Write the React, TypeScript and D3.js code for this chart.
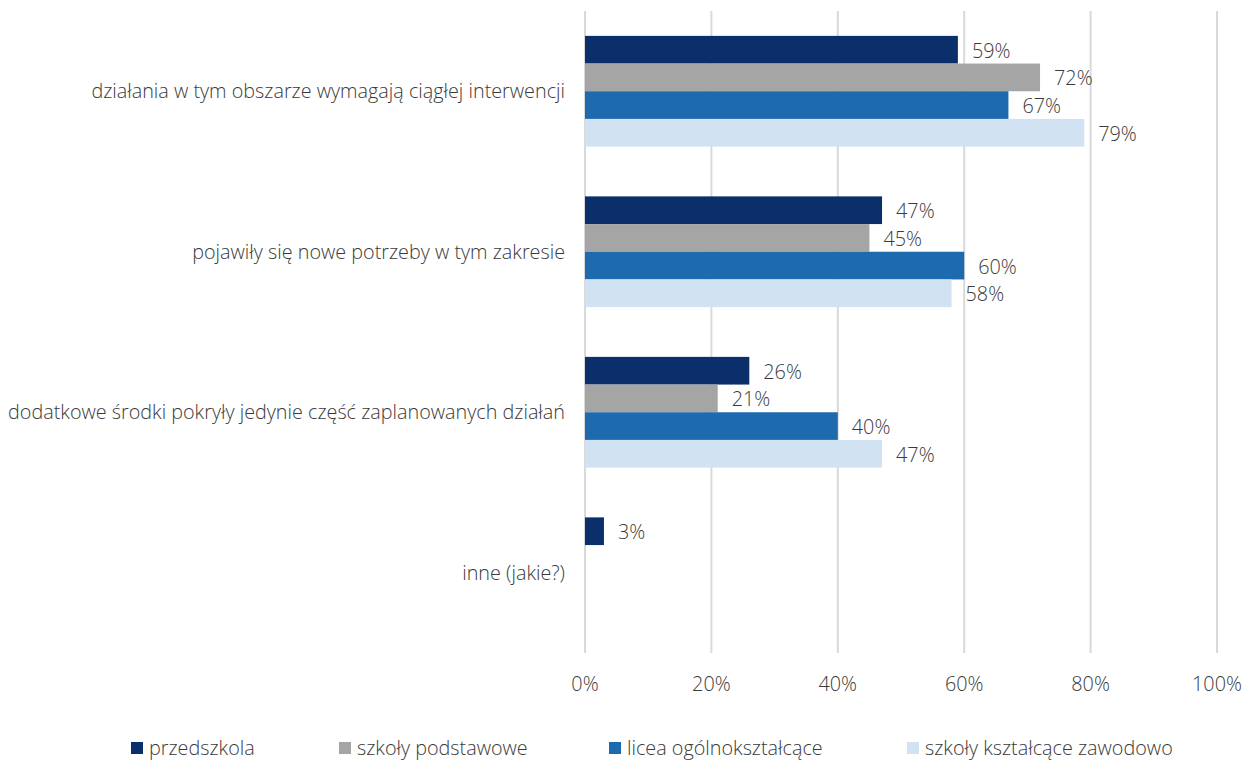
import React from "react";
import * as d3 from "d3";

const categories = [
  "działania w tym obszarze wymagają ciągłej interwencji",
  "pojawiły się nowe potrzeby w tym zakresie",
  "dodatkowe środki pokryły jedynie część zaplanowanych działań",
  "inne (jakie?)",
];
const seriesNames = ["przedszkola", "szkoły podstawowe", "licea ogólnokształcące", "szkoły kształcące zawodowo"];
const przedszkola = [59, 47, 26, 3];
const podstawowe = [72, 45, 21, null];
const licea = [67, 60, 40, null];
const zawodowe = [79, 58, 47, null];
const seriesValues = [przedszkola, podstawowe, licea, zawodowe];
const colors = ["#0a2f6a", "#a5a5a5", "#1d6aaf", "#d1e2f2"];
const xTicks = [0, 20, 40, 60, 80, 100];
const legendX = [131, 339, 609, 907];

const W = 1253;
const H = 760;
const FONT = "'Open Sans', 'Noto Sans', sans-serif";
const TXT = "#3a3a3a";
const FS = 19.8;

export default function App() {
  const x = d3.scaleLinear().domain([0, 100]).range([585, 1217]);
  const y = d3.scaleBand<string>().domain(categories).range([11, 653]).paddingInner(0.31).paddingOuter(0.155);
  const inner = d3.scaleBand<number>().domain([0, 1, 2, 3]).range([0, y.bandwidth()]);

  return (
    <svg width={W} height={H} style={{ position: "absolute", left: 0, top: 0, background: "#fff" }} fontFamily={FONT}>
      {xTicks.map((t) => (
        <line key={t} x1={x(t)} x2={x(t)} y1={11} y2={653} stroke="#d9d9d9" strokeWidth={2} />
      ))}
      {categories.map((c, ci) =>
        seriesValues.map((s, si) => {
          const v = s[ci];
          if (v == null) return null;
          const yy = (y(c) as number) + (inner(si) as number);
          return (
            <g key={c + si}>
              <rect x={x(0)} y={yy} width={x(v) - x(0)} height={inner.bandwidth()} fill={colors[si]} />
              <text x={x(v) + 14} y={yy + inner.bandwidth() / 2 + 1} dy="0.35em" fontSize={FS} fill={TXT} fontWeight={300}>
                {v}%
              </text>
            </g>
          );
        })
      )}
      {categories.map((c) => (
        <text key={c} x={565} y={(y(c) as number) + y.bandwidth() / 2} dy="0.35em" textAnchor="end" fontSize={FS} fill={TXT} fontWeight={300}>
          {c}
        </text>
      ))}
      {xTicks.map((t) => (
        <text key={t} x={x(t)} y={684} dy="0.35em" textAnchor="middle" fontSize={FS} fill={TXT} fontWeight={300}>
          {t}%
        </text>
      ))}
      {seriesNames.map((n, i) => (
        <g key={n}>
          <rect x={legendX[i]} y={742} width={12} height={12} fill={colors[i]} />
          <text x={legendX[i] + 18} y={748} dy="0.35em" fontSize={FS} fill={TXT} fontWeight={300}>
            {n}
          </text>
        </g>
      ))}
    </svg>
  );
}
